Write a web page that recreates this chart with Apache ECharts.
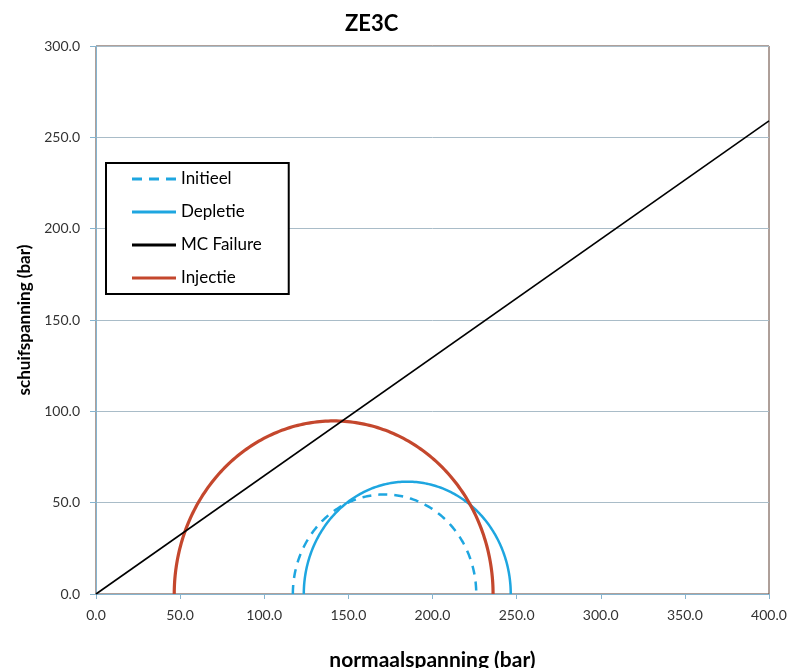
<!DOCTYPE html>
<html>
<head>
<meta charset="utf-8">
<script src="https://cdn.jsdelivr.net/npm/echarts@6/dist/echarts.min.js"></script>
<style>
html, body { margin: 0; padding: 0; background: #fff; }
#chart { width: 792px; height: 668px; }
</style>
</head>
<body>
<div id="chart"></div>
<script>
// Mohr circles: [sigma3, sigma1] in bar
var initieel = [117, 226];
var depletie = [123.5, 246.5];
var injectie = [46.5, 236];
// MC failure envelope: [normaal, schuif]
var mcFailure = [[0, 0], [400, 259]];

var xTicks = [0, 50, 100, 150, 200, 250, 300, 350, 400];
var yTicks = [0, 50, 100, 150, 200, 250, 300];

var font = 'Lato';
var blue = '#1ea6e0';
var red = '#c4472d';

// half circle through the axes' own scales
function mohr(color, width, dash) {
    return function (params, api) {
        var s3 = api.value(0), s1 = api.value(1);
        var c = (s1 + s3) / 2, r = (s1 - s3) / 2;
        var pts = [];
        for (var i = 0; i <= 180; i++) {
            var t = Math.PI * i / 180;
            pts.push(api.coord([c - r * Math.cos(t), r * Math.sin(t)]));
        }
        return {
            type: 'polyline',
            shape: { points: pts },
            style: { stroke: color, lineWidth: width, lineDash: dash, fill: null }
        };
    };
}

var solid = 'path://M0,0h44v3h-44z';
var dashed = 'path://M0,0h10v3h-10zM17,0h10v3h-10zM34,0h10v3h-10z';

var myChart = echarts.init(document.getElementById('chart'));

option = {
    animation: false,
    title: {
        text: 'ZE3C',
        left: 340,
        top: 8,
        textStyle: { fontFamily: font, fontSize: 22, fontWeight: 'bold', color: '#000' }
    },
    legend: {
        orient: 'vertical',
        left: 106,
        top: 163,
        padding: [6, 27, 6, 26],
        itemGap: 13,
        itemWidth: 44,
        itemHeight: 3,
        borderColor: '#000',
        borderWidth: 2,
        backgroundColor: '#fff',
        textStyle: { fontFamily: font, fontSize: 17, color: '#000', lineHeight: 20 },
        data: [
            { name: 'Initieel', icon: dashed },
            { name: 'Depletie', icon: solid },
            { name: 'MC Failure', icon: solid },
            { name: 'Injectie', icon: solid }
        ]
    },
    grid: {
        left: 96,
        right: 23,
        top: 46,
        bottom: 74,
        outerBoundsMode: 'none',
        show: true,
        borderColor: '#5e4035',
        borderWidth: 1
    },
    xAxis: {
        type: 'value',
        min: 0,
        max: 400,
        interval: 50,
        name: 'normaalspanning (bar)',
        nameLocation: 'middle',
        nameGap: 56,
        nameTextStyle: { fontFamily: font, fontSize: 21, fontWeight: 'bold', color: '#000' },
        axisLine: { lineStyle: { color: '#86b4cf', width: 1 } },
        axisTick: { show: true, length: 5, lineStyle: { color: '#86b4cf' } },
        axisLabel: {
            fontFamily: font, fontSize: 14, color: '#333', margin: 14,
            formatter: function (v) { return v.toFixed(1); }
        },
        splitLine: { show: false }
    },
    yAxis: {
        type: 'value',
        min: 0,
        max: 300,
        interval: 50,
        name: 'schuifspanning (bar)',
        nameLocation: 'middle',
        nameGap: 60,
        nameTextStyle: { fontFamily: font, fontSize: 17, fontWeight: 'bold', color: '#000' },
        axisLine: { lineStyle: { color: '#86b4cf', width: 1 } },
        axisTick: { show: true, length: 6, lineStyle: { color: '#86b4cf' } },
        axisLabel: {
            fontFamily: font, fontSize: 14, color: '#333', margin: 16,
            formatter: function (v) { return v.toFixed(1); }
        },
        splitLine: { show: true, lineStyle: { color: '#a9bcc8', width: 1 } }
    },
    series: [
        {
            name: 'Initieel',
            type: 'custom',
            itemStyle: { color: blue },
            renderItem: mohr(blue, 2.5, [9, 7]),
            data: [initieel]
        },
        {
            name: 'Depletie',
            type: 'custom',
            itemStyle: { color: blue },
            renderItem: mohr(blue, 2.5, null),
            data: [depletie]
        },
        {
            name: 'MC Failure',
            type: 'line',
            showSymbol: false,
            symbol: 'none',
            color: '#000',
            itemStyle: { color: '#000' },
            lineStyle: { color: '#000', width: 1.6 },
            data: mcFailure
        },
        {
            name: 'Injectie',
            type: 'custom',
            itemStyle: { color: red },
            renderItem: mohr(red, 3.2, null),
            data: [injectie]
        }
    ]
};

myChart.setOption(option);
</script>
</body>
</html>
